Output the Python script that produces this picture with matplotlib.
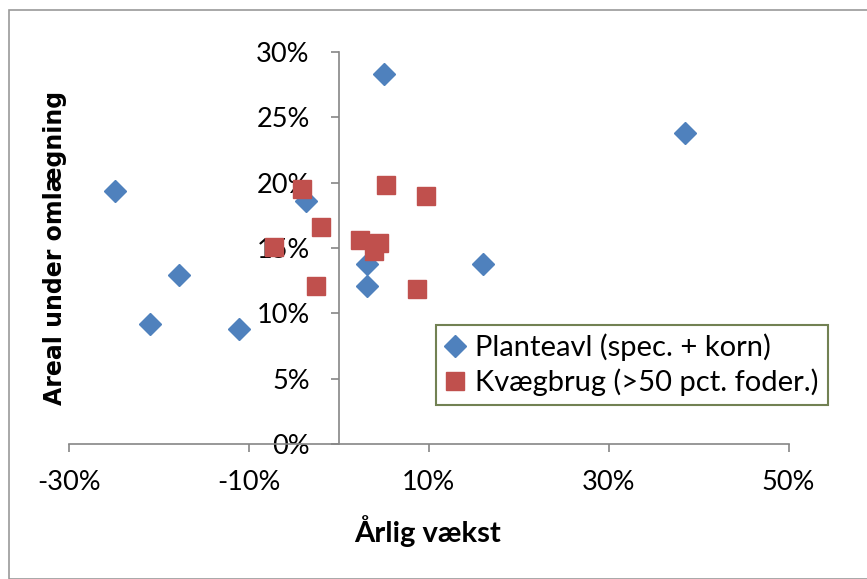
import matplotlib
matplotlib.use("Agg")
import matplotlib.pyplot as plt
from matplotlib.ticker import FuncFormatter, FixedLocator
from matplotlib.patches import Rectangle

# Data (fractions)
plante_x = [0.050, 0.385, -0.249, -0.036, -0.178, -0.210, -0.111, 0.031, 0.031, 0.160]
plante_y = [0.283, 0.238, 0.194, 0.186, 0.129, 0.092, 0.088, 0.138, 0.121, 0.138]
kvaeg_x = [-0.041, -0.020, -0.072, -0.025, 0.024, 0.045, 0.039, 0.052, 0.097, 0.087]
kvaeg_y = [0.195, 0.166, 0.151, 0.121, 0.156, 0.154, 0.148, 0.198, 0.190, 0.119]
x_ticks = [-0.30, -0.10, 0.10, 0.30, 0.50]
y_ticks = [0.0, 0.05, 0.10, 0.15, 0.20, 0.25, 0.30]
series_names = ["Planteavl (spec. + korn)", "Kvægbrug (>50 pct. foder.)"]
x_title = "Årlig vækst"
y_title = "Areal under omlægning"

plt.rcParams['font.family'] = ['Lato', 'DejaVu Sans']

fig = plt.figure(figsize=(8.67, 5.79), dpi=100)
fig.patch.set_facecolor("white")
W, H = 867, 579
ax = fig.add_axes([69 / W, 1 - 444 / H, (788.5 - 69) / W, (444 - 52) / H])

# outer chart border
fig.patches.append(Rectangle((9 / W, 0), 1, 1 - 10 / H, transform=fig.transFigure,
                             fill=False, edgecolor="#9A9A9A", linewidth=1.2))

ax.plot(plante_x, plante_y, linestyle="none", marker="D", markersize=11,
        color="#4F81BD", markeredgecolor="#4F81BD", label=series_names[0], zorder=3)
ax.plot(kvaeg_x, kvaeg_y, linestyle="none", marker="s", markersize=13.5,
        color="#C0504D", markeredgecolor="#C0504D", label=series_names[1], zorder=3)

ax.set_xlim(-0.30, 0.50)
ax.set_ylim(0, 0.30)
ax.xaxis.set_major_locator(FixedLocator(x_ticks))
ax.yaxis.set_major_locator(FixedLocator(y_ticks))
fmt = FuncFormatter(lambda v, p: f"{v*100:.0f}%")
ax.xaxis.set_major_formatter(fmt)
ax.yaxis.set_major_formatter(fmt)

for s in ["top", "right"]:
    ax.spines[s].set_visible(False)
ax.spines["left"].set_position(("data", 0))
ax.spines["left"].set_color("#868686")
ax.spines["bottom"].set_color("#868686")
ax.spines["left"].set_linewidth(1.2)
ax.spines["bottom"].set_linewidth(1.2)
ax.tick_params(axis="both", direction="out", length=6, width=1.2, color="#868686",
               labelsize=19.5, labelcolor="black")
ax.tick_params(axis="x", pad=13)
ax.tick_params(axis="y", pad=15)
ax.set_facecolor("none")

fig.text(428 / W, 1 - 531 / H, x_title, ha="center", va="center", fontsize=21,
         fontweight="bold")
fig.text(55 / W, 1 - 248 / H, y_title, ha="center", va="center", fontsize=17,
         fontweight="bold", rotation=90, family="DejaVu Sans")

leg = fig.legend(loc="upper left", bbox_to_anchor=(436 / W, 1 - 325 / H),
                 bbox_transform=fig.transFigure, fontsize=21, frameon=True,
                 fancybox=False, handlelength=0.7, handletextpad=0.35,
                 borderpad=0.3, labelspacing=0.25, numpoints=1, borderaxespad=0)
leg.get_frame().set_edgecolor("#4F6228")
leg.get_frame().set_linewidth(1.5)

fig.savefig("out.png", dpi=100)
